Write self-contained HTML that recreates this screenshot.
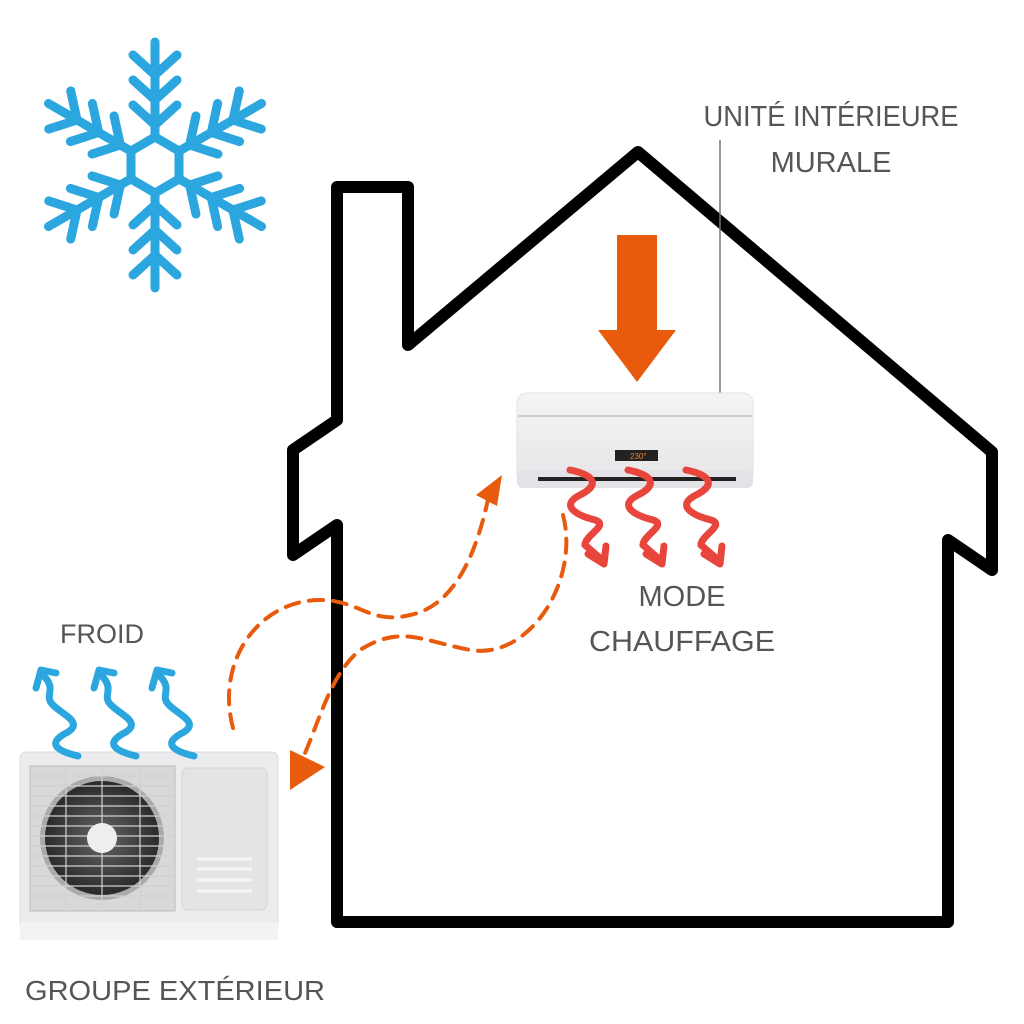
<!DOCTYPE html>
<html><head><meta charset="utf-8"><style>
body{margin:0;background:#fff}
svg{display:block}
text{font-family:"Liberation Sans",sans-serif;fill:#555;font-weight:normal}
</style></head><body>
<svg width="1024" height="1024" viewBox="0 0 1024 1024">
<defs>
<linearGradient id="ac" x1="0" y1="0" x2="0" y2="1"><stop offset="0" stop-color="#f4f4f5"/><stop offset="1" stop-color="#e6e6e8"/></linearGradient>
<radialGradient id="fan" cx=".5" cy=".5" r=".5"><stop offset="0" stop-color="#666"/><stop offset="1" stop-color="#2a2a2a"/></radialGradient>
<g id="arm">
<line x1="0" y1="-28" x2="0" y2="-123" stroke="#2ba6df" stroke-width="9" stroke-linecap="round"/>
<polyline points="-22,-60 0,-40 22,-60" fill="none" stroke="#2ba6df" stroke-width="9" stroke-linecap="round" stroke-linejoin="round"/>
<polyline points="-22,-85 0,-65 22,-85" fill="none" stroke="#2ba6df" stroke-width="9" stroke-linecap="round" stroke-linejoin="round"/>
<polyline points="-22,-110 0,-90 22,-110" fill="none" stroke="#2ba6df" stroke-width="9" stroke-linecap="round" stroke-linejoin="round"/>
</g>
<g id="rw"><path d="M0,0 C25,5 30,15 10,25 C-10,35 5,45 25,50 C40,55 15,65 15,75 L30,88" fill="none" stroke="#e8453c" stroke-width="7" stroke-linecap="round"/><path d="M18,84 L34,94 L36,76" fill="none" stroke="#e8453c" stroke-width="7" stroke-linecap="round" stroke-linejoin="round"/></g>
<g id="bw"><path d="M40,86 C15,80 10,72 30,62 C45,52 25,45 15,35 C5,25 20,20 5,5" fill="none" stroke="#2ba6df" stroke-width="7" stroke-linecap="round"/><path d="M-2,18 L3,0 L18,3" fill="none" stroke="#2ba6df" stroke-width="7" stroke-linecap="round" stroke-linejoin="round"/></g>
</defs>

<!-- snowflake -->
<g transform="translate(155,165)">
<polygon points="0,-28 24,-14 24,14 0,28 -24,14 -24,-14" fill="none" stroke="#2ba6df" stroke-width="9" stroke-linejoin="round"/>
<use href="#arm"/><use href="#arm" transform="rotate(60)"/><use href="#arm" transform="rotate(120)"/><use href="#arm" transform="rotate(180)"/><use href="#arm" transform="rotate(240)"/><use href="#arm" transform="rotate(300)"/>
</g>

<!-- house -->
<path d="M337,922 L337,525 L293,555 L293,450 L337,420 L337,187 L408,187 L408,345 L638,152 L992,452 L992,570 L948,540 L948,922 Z" fill="none" stroke="#000" stroke-width="12" stroke-linejoin="round"/>

<!-- label line -->
<line x1="720" y1="140" x2="720" y2="445" stroke="#777" stroke-width="1.5"/>

<!-- orange arrow -->
<rect x="617" y="235" width="40" height="97" fill="#e85a0c"/>
<polygon points="598,330 676,330 637,382" fill="#e85a0c"/>

<!-- indoor unit -->
<rect x="517" y="393" width="236" height="92" rx="10" fill="url(#ac)" stroke="#e2e2e4"/>
<line x1="518" y1="416" x2="752" y2="416" stroke="#aaa" stroke-width="1"/>
<rect x="517" y="470" width="236" height="18" rx="6" fill="#e4e2e6"/>
<rect x="538" y="477" width="198" height="4" fill="#222"/>
<rect x="615" y="450" width="43" height="11" fill="#222"/>
<text x="630" y="459" font-size="8" style="fill:#e8832c">230°</text>

<!-- red squiggles -->
<use href="#rw" transform="translate(570,470)"/>
<use href="#rw" transform="translate(628,470)"/>
<use href="#rw" transform="translate(686,470)"/>

<!-- dashed paths -->
<path d="M233,728 C215,660 260,600 320,600 C360,600 370,625 410,615 C460,605 480,540 490,490" fill="none" stroke="#e85a0c" stroke-width="4" stroke-dasharray="14,10" stroke-linecap="round"/>
<polygon points="476,495 502,475 497,506" fill="#e85a0c"/>
<path d="M563,515 C580,580 530,660 470,650 C420,640 400,625 360,650 C330,675 320,720 300,765" fill="none" stroke="#e85a0c" stroke-width="4" stroke-dasharray="14,10" stroke-linecap="round"/>
<polygon points="290,750 325,767 290,790" fill="#e85a0c"/>

<!-- outdoor unit -->
<rect x="20" y="752" width="258" height="178" rx="6" fill="#ececee" stroke="#ddd"/>
<rect x="20" y="922" width="258" height="18" fill="#f3f3f4"/>
<rect x="30" y="766" width="145" height="145" fill="#d8d8da" stroke="#bbb"/>
<circle cx="102" cy="838" r="62" fill="#aaa"/>
<circle cx="102" cy="838" r="57" fill="url(#fan)"/>
<g stroke="#d0d0d2" stroke-width="1.2">
<line x1="32" y1="776" x2="173" y2="776"/><line x1="32" y1="786" x2="173" y2="786"/><line x1="32" y1="796" x2="173" y2="796"/><line x1="32" y1="806" x2="173" y2="806"/><line x1="32" y1="816" x2="173" y2="816"/><line x1="32" y1="826" x2="173" y2="826"/><line x1="32" y1="836" x2="173" y2="836"/><line x1="32" y1="846" x2="173" y2="846"/><line x1="32" y1="856" x2="173" y2="856"/><line x1="32" y1="866" x2="173" y2="866"/><line x1="32" y1="876" x2="173" y2="876"/><line x1="32" y1="886" x2="173" y2="886"/><line x1="32" y1="896" x2="173" y2="896"/>
<line x1="66" y1="768" x2="66" y2="909"/><line x1="102" y1="768" x2="102" y2="909"/><line x1="140" y1="768" x2="140" y2="909"/>
</g>
<circle cx="102" cy="838" r="15" fill="#eee"/>
<rect x="182" y="768" width="85" height="142" rx="6" fill="#e4e4e6" stroke="#d4d4d6"/>
<g stroke="#f6f6f6" stroke-width="3"><line x1="197" y1="859" x2="252" y2="859"/><line x1="197" y1="869" x2="252" y2="869"/><line x1="197" y1="880" x2="252" y2="880"/><line x1="197" y1="891" x2="252" y2="891"/></g>

<!-- blue squiggles -->
<use href="#bw" transform="translate(38,670)"/>
<use href="#bw" transform="translate(96,670)"/>
<use href="#bw" transform="translate(154,670)"/>

<!-- text -->
<text x="831" y="126" font-size="29" text-anchor="middle" textLength="255" lengthAdjust="spacingAndGlyphs">UNITÉ INTÉRIEURE</text>
<text x="831" y="172" font-size="29" text-anchor="middle">MURALE</text>
<text x="682" y="606" font-size="29" text-anchor="middle">MODE</text>
<text x="682" y="651" font-size="29" text-anchor="middle" textLength="186" lengthAdjust="spacingAndGlyphs">CHAUFFAGE</text>
<text x="102" y="643" font-size="27" text-anchor="middle">FROID</text>
<text x="175" y="1000" font-size="28" text-anchor="middle" textLength="300" lengthAdjust="spacingAndGlyphs">GROUPE EXTÉRIEUR</text>
</svg>
</body></html>
